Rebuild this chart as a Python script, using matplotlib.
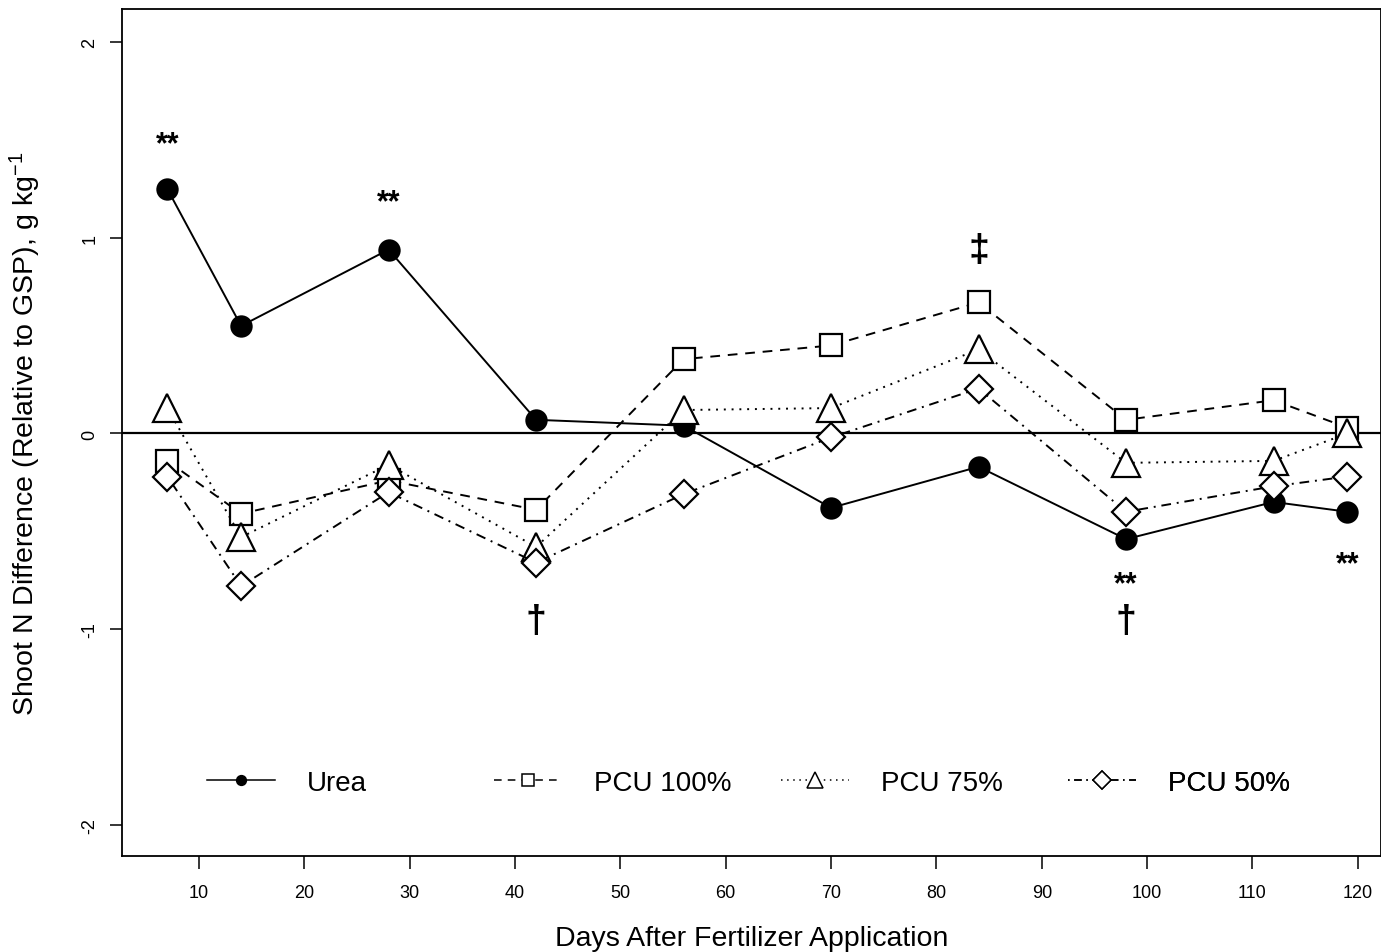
import matplotlib
matplotlib.use("Agg")
import matplotlib.pyplot as plt
from matplotlib.lines import Line2D
from matplotlib.transforms import blended_transform_factory

plt.rcParams['font.family'] = ['Liberation Sans', 'DejaVu Sans']
plt.rcParams['mathtext.fontset'] = 'custom'
plt.rcParams['mathtext.rm'] = 'Liberation Sans'
plt.rcParams['mathtext.default'] = 'regular'
plt.rcParams['axes.unicode_minus'] = False

# sampling days and shoot N difference relative to GSP (g/kg)
days = [7, 14, 28, 42, 56, 70, 84, 98, 112, 119]
urea = [1.25, 0.55, 0.94, 0.07, 0.04, -0.38, -0.17, -0.54, -0.35, -0.40]
pcu100 = [-0.14, -0.41, -0.24, -0.39, 0.38, 0.45, 0.67, 0.07, 0.17, 0.03]
pcu75 = [0.13, -0.53, -0.16, -0.58, 0.12, 0.13, 0.43, -0.15, -0.14, 0.00]
pcu50 = [-0.22, -0.78, -0.30, -0.66, -0.31, -0.02, 0.23, -0.40, -0.27, -0.22]

# significance marks: (day, y, symbol)
sig_marks = [(7, 1.48, '**'), (28, 1.18, '**'), (84, 0.94, '\u2021'),
             (42, -0.96, '\u2020'), (98, -0.77, '**'), (98, -0.96, '\u2020'),
             (119, -0.67, '**')]

series = [
    ('Urea', urea, dict(ls='-', marker='o', ms=14.5, mfc='black'), 7),
    ('PCU 100%', pcu100, dict(ls=(0, (5, 4)), marker='s', ms=15.5, mfc='white'), 8.5),
    ('PCU 75%', pcu75, dict(ls=(0, (1, 3)), marker='^', ms=20, mfc='white'), 11),
    ('PCU 50%', pcu50, dict(ls=(0, (1, 3, 5, 3)), marker='D', ms=14.5, mfc='white'), 9),
]

fig = plt.figure(figsize=(13.81, 9.53), dpi=100)
ax = fig.add_axes([0.0883, 0.1007, 0.9117, 0.8888])

ax.axhline(0, color='black', lw=1.6, zorder=1)

for name, vals, style, _ in series:
    ax.plot(days, vals, color='black', lw=1.4, mec='black', mew=1.6, zorder=3, **style)

for d, y, s in sig_marks:
    size = 22 if s == '**' else 27
    ax.text(d, y, s, ha='center', va='center', fontsize=size, fontweight='bold', zorder=4)

ax.set_xlim(2.69, 122.2)
ax.set_ylim(-2.16, 2.17)
ax.set_xticks(range(10, 121, 10))
ax.set_yticks([-2, -1, 0, 1, 2])
ax.tick_params(axis='both', length=9, width=1.1, labelsize=13)
ax.tick_params(axis='x', pad=11)
ax.tick_params(axis='y', pad=8, labelrotation=90)
for lab in ax.get_yticklabels():
    lab.set_va('center')
for sp in ax.spines.values():
    sp.set_linewidth(1.3)

ax.set_xlabel('Days After Fertilizer Application', fontsize=20.5)
ax.set_ylabel('Shoot N Difference (Relative to GSP), g kg$^{-1}$', fontsize=20.5)
ax.xaxis.set_label_coords(0.5, -0.082)
ax.yaxis.set_label_coords(-0.063, 0.5)

# legend: one entry per slot so the spacing stays even
trans = blended_transform_factory(ax.transAxes, ax.transData)
slots = [0.0675, 0.2955, 0.5235, 0.7514]
for (name, vals, style, lms), xpos in zip(series, slots):
    st = dict(style)
    st['ms'] = lms
    h = Line2D([], [], color='black', lw=1.1, mec='black', mew=1.1, **st)
    leg = ax.legend([h], [name], loc='center left', bbox_to_anchor=(xpos, -1.785),
                    bbox_transform=trans, frameon=False, fontsize=20,
                    handlelength=2.45, handletextpad=1.15, borderpad=0,
                    borderaxespad=0)
    ax.add_artist(leg)

fig.savefig('out.png', dpi=100)
